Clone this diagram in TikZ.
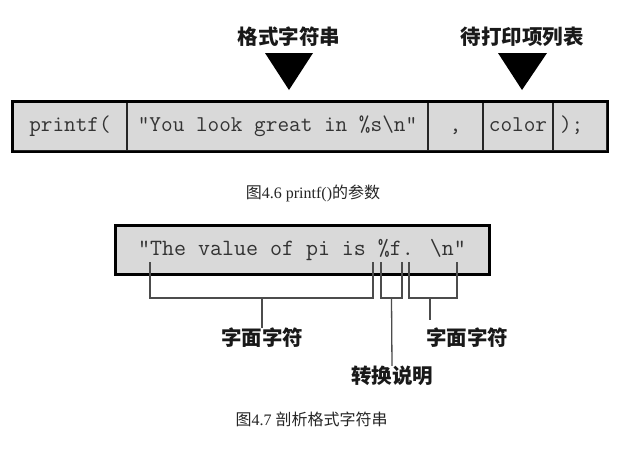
\documentclass[tikz,border=0pt]{standalone}
\usepackage{fontspec}
\setmainfont{Liberation Serif}
\newfontfamily\cjk{Noto Sans CJK SC}
\begin{document}
\begin{tikzpicture}[x=1pt,y=-1pt,
  cellbox/.style={draw=black!85,line width=1.6pt,fill=black!15,minimum height=49pt,inner sep=0pt,
    text height=13pt,text depth=4pt,
    font=\ttfamily\fontsize{22.6}{23}\selectfont,text=black!80},
  strbox/.style={draw=black,line width=3pt,fill=black!15,minimum width=374pt,minimum height=49pt,inner sep=0pt,
    font=\ttfamily\fontsize{23.3}{24}\selectfont,text=black!80},
  headlabel/.style={font=\cjk\bfseries\fontsize{20.5}{21}\selectfont,text=black!90,inner sep=0pt},
  caption/.style={font=\fontsize{16}{17}\selectfont,text=black!85,inner sep=0pt},
  pointer/.style={fill=black},
  bracket/.style={draw=black!70,line width=1.3pt},
]
\useasboundingbox (0,0) rectangle (632,456);
\fill[white] (0,0) rectangle (632,456);

% top labels and pointers
\node[headlabel] (lab1) at (289,37) {格式字符串};
\node[headlabel] (lab2) at (522,37) {待打印项列表};
\fill[pointer] (265,53) -- (313,53) -- (289,90) -- cycle;
\fill[pointer] (498,53) -- (547,53) -- (522,90) -- cycle;

% top bar cells
\node[cellbox,minimum width=114pt] (c1) at (70,126.5) {printf(};
\node[cellbox,minimum width=301pt] (c2) at (277.5,126.5) {"You look great in \%s\textbackslash n"};
\node[cellbox,minimum width=55pt] (c3) at (455.5,126.5) {,};
\node[cellbox,minimum width=70pt] (c4) at (518,126.5) {color};
\node[cellbox,minimum width=54pt,text width=40pt,align=left] (c5) at (580,126.5) {);};
\draw[black,line width=2.6pt] (c1.north west) rectangle (c5.south east);

\node[caption] (cap1) at (313,193) {{\cjk 图}4.6 printf(){\cjk 的参数}};

% second figure
\node[strbox] (str) at (302,249.5) {"The value of pi is \%f. \textbackslash n"};

\coordinate (a1) at (150,262); \coordinate (a2) at (373,262);
\coordinate (b1) at (381,262); \coordinate (b2) at (402,262);
\coordinate (d1) at (409,262); \coordinate (d2) at (457,262);

\node[headlabel] (lit1) at (262,338) {字面字符};
\node[headlabel] (conv) at (392,376) {转换说明};
\node[headlabel] (lit2) at (467,338) {字面字符};

\draw[bracket] (a1) -- (150,298) -- (373,298) -- (a2);
\draw[bracket] (262,298) -- (lit1.north);
\draw[bracket] (b1) -- (381,298) -- (402,298) -- (b2);
\draw[bracket] (391.5,298) -- (conv.north);
\draw[bracket] (d1) -- (409,298) -- (457,298) -- (d2);
\draw[bracket] (430,298) -- (430,320);

\node[caption] (cap2) at (311.5,419) {{\cjk 图}4.7 {\cjk 剖析格式字符串}};
\end{tikzpicture}
\end{document}
